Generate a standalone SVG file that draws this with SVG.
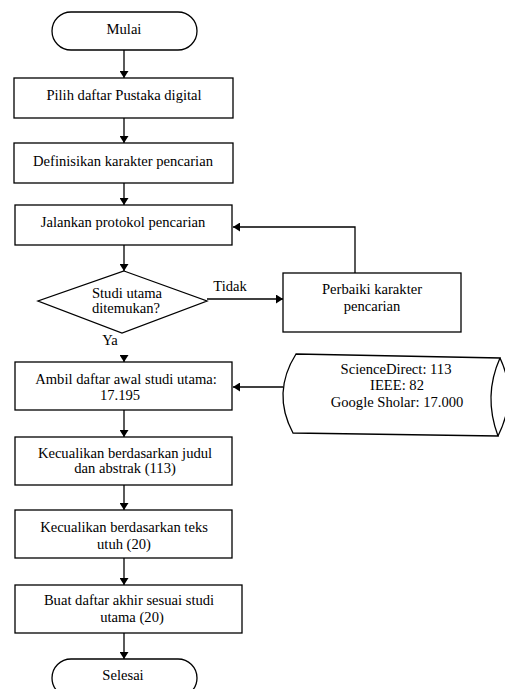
<svg xmlns="http://www.w3.org/2000/svg" width="505" height="689" viewBox="0 0 505 689">
  <style>
    .shape { fill: #ffffff; stroke: #000000; stroke-width: 1.3; }
    .line { fill: none; stroke: #000000; stroke-width: 1.3; }
    text { font-family: "Liberation Serif", "Times New Roman", serif; font-size: 14.6px; fill: #000000; text-anchor: middle; }
  </style>
  <defs>
    <marker id="arrow" markerUnits="userSpaceOnUse" markerWidth="9" markerHeight="9" refX="7" refY="4.5" orient="auto">
      <path d="M0,0 L7,4.5 L0,9 Z" fill="#000000"/>
    </marker>
  </defs>
  <rect width="505" height="689" fill="#ffffff"/>

  <g id="connectors">
    <path class="line" d="M124 50 V78" marker-end="url(#arrow)"/>
    <path class="line" d="M124 118 V143" marker-end="url(#arrow)"/>
    <path class="line" d="M124 183 V205" marker-end="url(#arrow)"/>
    <path class="line" d="M124 245 V271" marker-end="url(#arrow)"/>
    <path class="line" d="M207 299 H283" marker-end="url(#arrow)"/>
    <path class="line" d="M355 273 V227 H233" marker-end="url(#arrow)"/>
    <path class="line" d="M124 356 V362" marker-end="url(#arrow)"/>
    <path class="line" d="M283 387 H233" marker-end="url(#arrow)"/>
    <path class="line" d="M124 410 V437" marker-end="url(#arrow)"/>
    <path class="line" d="M124 485 V510" marker-end="url(#arrow)"/>
    <path class="line" d="M124 558 V585" marker-end="url(#arrow)"/>
    <path class="line" d="M124 633 V659" marker-end="url(#arrow)"/>
    <text x="230" y="291">Tidak</text>
    <text x="110" y="345">Ya</text>
  </g>

  <g id="start">
    <rect class="shape" x="52" y="12" width="145" height="38" rx="19" ry="19"/>
    <text x="124" y="34">Mulai</text>
  </g>

  <g id="select-library">
    <rect class="shape" x="14" y="78" width="219" height="40"/>
    <text x="124" y="100">Pilih daftar Pustaka digital</text>
  </g>

  <g id="define-keywords">
    <rect class="shape" x="14" y="143" width="219" height="40"/>
    <text x="123" y="166">Definisikan karakter pencarian</text>
  </g>

  <g id="run-search">
    <rect class="shape" x="15" y="205" width="217" height="40"/>
    <text x="123" y="227">Jalankan protokol pencarian</text>
  </g>

  <g id="found-decision">
    <polygon class="shape" points="124,271 207,301 122,333 38,301"/>
    <text x="127" y="298">Studi utama</text>
    <text x="126" y="313">ditemukan?</text>
  </g>

  <g id="refine-keywords">
    <rect class="shape" x="283" y="273" width="178" height="59"/>
    <text x="372" y="294">Perbaiki karakter</text>
    <text x="372" y="311">pencarian</text>
  </g>

  <g id="initial-list">
    <rect class="shape" x="15" y="362" width="217" height="48"/>
    <text x="126" y="384">Ambil daftar awal studi utama:</text>
    <text x="120" y="400">17.195</text>
  </g>

  <g id="sources">
    <path class="shape" d="M296 354 L500 358 Q483 396 498 436 L293 433 Q271.5 393 296 354 Z"/>
    <path class="line" d="M500 358 Q518 396 498 436"/>
    <text x="396" y="374">ScienceDirect:  113</text>
    <text x="397" y="390">IEEE:  82</text>
    <text x="397" y="407">Google Sholar: 17.000</text>
  </g>

  <g id="title-abstract-filter">
    <rect class="shape" x="15" y="437" width="217" height="48"/>
    <text x="125" y="458">Kecualikan berdasarkan judul</text>
    <text x="125" y="473">dan abstrak (113)</text>
  </g>

  <g id="full-text-filter">
    <rect class="shape" x="15" y="510" width="217" height="48"/>
    <text x="124" y="532">Kecualikan berdasarkan teks</text>
    <text x="124" y="549">utuh (20)</text>
  </g>

  <g id="final-list">
    <rect class="shape" x="15" y="585" width="227" height="48"/>
    <text x="129" y="605">Buat daftar  akhir sesuai  studi</text>
    <text x="132" y="622">utama (20)</text>
  </g>

  <g id="end">
    <rect class="shape" x="52" y="659" width="145" height="38" rx="19" ry="19"/>
    <text x="123" y="680">Selesai</text>
  </g>
</svg>
